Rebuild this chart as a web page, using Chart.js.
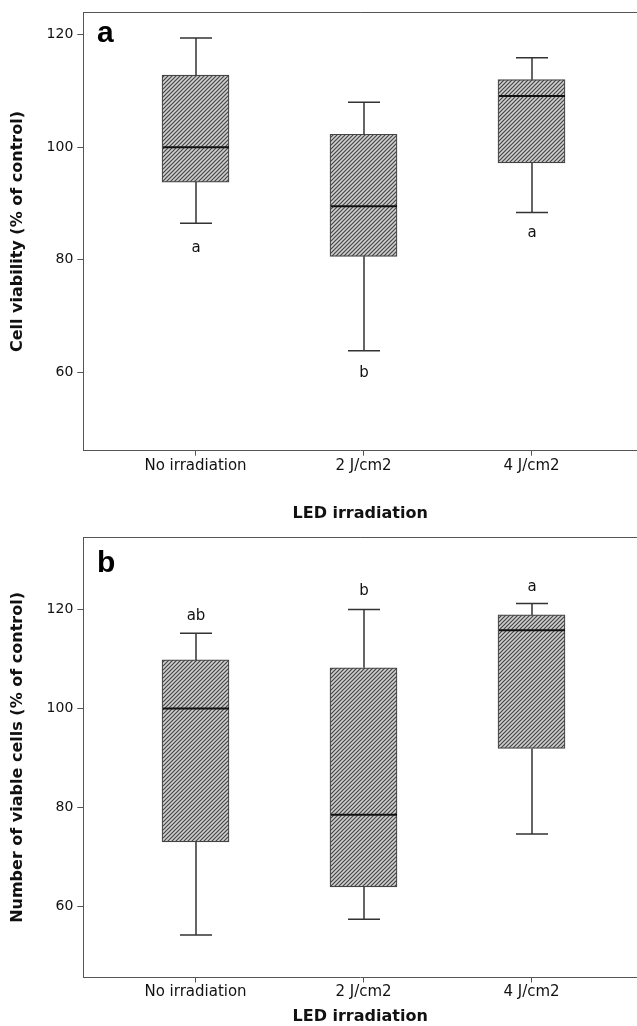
<!DOCTYPE html>
<html>
<head>
<meta charset="utf-8">
<script src="https://cdn.jsdelivr.net/npm/chart.js@4/dist/chart.umd.min.js"></script>
<style>
  body { margin: 0; background: #fff; }
  canvas { display: block; }
</style>
</head>
<body>
<canvas id="chartA" width="637" height="525"></canvas>
<canvas id="chartB" width="637" height="501"></canvas>
<script>
// Box plot data
const groups = ['No irradiation', '2 J/cm2', '4 J/cm2'];
const yTicks = [60, 80, 100, 120];

// a. Cell viability (% of control)
const aMin = [86.5, 63.8, 88.4];
const aQ1 = [93.8, 80.6, 97.2];
const aMed = [100.0, 89.5, 109.1];
const aQ3 = [112.8, 102.3, 112.0];
const aMax = [119.4, 108.0, 115.9];
const aLetters = ['a', 'b', 'a'];
const aLetterY = [82.0, 59.8, 84.7];

// b. Number of viable cells (% of control)
const bMin = [54.2, 57.4, 74.6];
const bQ1 = [73.0, 63.9, 91.9];
const bMed = [100.0, 78.5, 115.8];
const bQ3 = [109.8, 108.2, 118.9];
const bMax = [115.2, 120.0, 121.2];
const bLetters = ['ab', 'b', 'a'];
const bLetterY = [118.6, 123.7, 124.6];

const FONT = 'DejaVu Sans';

function makeHatch(ctx) {
  const c = document.createElement('canvas');
  c.width = 4; c.height = 4;
  const g = c.getContext('2d');
  g.fillStyle = '#cfcfcf';
  g.fillRect(0, 0, 4, 4);
  g.strokeStyle = '#444';
  g.lineWidth = 1.2;
  g.beginPath();
  g.moveTo(0, 4); g.lineTo(4, 0);
  g.moveTo(-1, 1); g.lineTo(1, -1);
  g.moveTo(3, 5); g.lineTo(5, 3);
  g.stroke();
  return ctx.createPattern(c, 'repeat');
}

// whiskers, medians, frame top, letters
const boxExtras = {
  id: 'boxExtras',
  afterDatasetsDraw(chart, args, opts) {
    const { ctx, chartArea, scales: { x, y } } = chart;
    ctx.save();
    groups.forEach((g, i) => {
      const cx = Math.round(x.getPixelForValue(i + 1));
      const yMin = y.getPixelForValue(opts.min[i]);
      const yQ1 = y.getPixelForValue(opts.q1[i]);
      const yQ3 = y.getPixelForValue(opts.q3[i]);
      const yMax = y.getPixelForValue(opts.max[i]);
      ctx.strokeStyle = '#333';
      ctx.lineWidth = 1.5;
      ctx.beginPath();
      ctx.moveTo(cx, yQ3); ctx.lineTo(cx, yMax);
      ctx.moveTo(cx - 16, yMax); ctx.lineTo(cx + 16, yMax);
      ctx.moveTo(cx, yQ1); ctx.lineTo(cx, yMin);
      ctx.moveTo(cx - 16, yMin); ctx.lineTo(cx + 16, yMin);
      ctx.stroke();

      const yMed = y.getPixelForValue(opts.med[i]);
      ctx.strokeStyle = '#111';
      ctx.lineWidth = 2;
      ctx.beginPath();
      ctx.moveTo(cx - 33, yMed); ctx.lineTo(cx + 33, yMed);
      ctx.stroke();

      ctx.fillStyle = '#111';
      ctx.font = '15px "' + FONT + '"';
      ctx.textAlign = 'center';
      ctx.textBaseline = 'middle';
      ctx.fillText(opts.letters[i], cx, y.getPixelForValue(opts.letterY[i]));
    });

    ctx.strokeStyle = '#555';
    ctx.lineWidth = 1;
    ctx.beginPath();
    ctx.moveTo(chartArea.left, Math.round(chartArea.top) + 0.5);
    ctx.lineTo(chartArea.right, Math.round(chartArea.top) + 0.5);
    ctx.stroke();

    ctx.fillStyle = '#000';
    ctx.font = 'bold 30px "Liberation Sans"';
    ctx.textAlign = 'left';
    ctx.textBaseline = 'alphabetic';
    ctx.fillText(opts.panel, 97, opts.panelY);
    ctx.restore();
  }
};

function makePanel(id, p) {
  const canvas = document.getElementById(id);
  const ctx = canvas.getContext('2d');
  return new Chart(ctx, {
    type: 'bar',
    data: {
      datasets: [{
        data: groups.map((g, i) => ({ x: i + 1, y: [p.q1[i], p.q3[i]] })),
        backgroundColor: makeHatch(ctx),
        borderColor: '#444',
        borderWidth: 1.2,
        borderSkipped: false,
        barThickness: 67
      }]
    },
    options: {
      responsive: false,
      animation: false,
      layout: { padding: { top: p.padTop, right: 0, bottom: 0, left: 0 } },
      plugins: {
        legend: { display: false },
        tooltip: { enabled: false },
        boxExtras: p
      },
      scales: {
        x: {
          type: 'linear',
          min: 0.332,
          max: 3.628,
          offset: false,
          afterBuildTicks: s => { s.ticks = groups.map((g, i) => ({ value: i + 1 })); },
          afterFit: s => { s.height = p.xAxisH; },
          ticks: {
            callback: (v, i) => groups[i],
            color: '#111',
            font: { family: FONT, size: 15 },
            padding: 1,
            maxRotation: 0,
            autoSkip: false
          },
          grid: { offset: false, drawOnChartArea: false, tickLength: 5, color: '#555' },
          border: { color: '#555', width: 1 },
          title: {
            display: true,
            text: 'LED irradiation',
            color: '#111',
            font: { family: FONT, size: 16, weight: 'bold' },
            padding: { top: 0, bottom: p.titlePad }
          }
        },
        y: {
          min: p.yMin,
          max: p.yMax,
          afterBuildTicks: s => { s.ticks = yTicks.map(v => ({ value: v })); },
          afterFit: s => { s.width = 83.3; },
          ticks: {
            color: '#111',
            font: { family: FONT, size: 14 },
            padding: 4
          },
          grid: { drawOnChartArea: false, tickLength: 6, color: '#555' },
          border: { color: '#555', width: 1 },
          title: {
            display: true,
            text: p.yTitle,
            color: '#111',
            font: { family: FONT, size: 16, weight: 'bold' },
            padding: { top: 8, bottom: 0 }
          }
        }
      }
    },
    plugins: [boxExtras]
  });
}

makePanel('chartA', {
  min: aMin, q1: aQ1, med: aMed, q3: aQ3, max: aMax,
  letters: aLetters, letterY: aLetterY,
  panel: 'a', panelY: 42,
  yMin: 46.06, yMax: 123.95,
  yTitle: 'Cell viability (% of control)',
  padTop: 9.3, xAxisH: 74.3, titlePad: 2
});

makePanel('chartB', {
  min: bMin, q1: bQ1, med: bMed, q3: bQ3, max: bMax,
  letters: bLetters, letterY: bLetterY,
  panel: 'b', panelY: 47,
  yMin: 45.6, yMax: 134.57,
  yTitle: 'Number of viable cells (% of control)',
  padTop: 11, xAxisH: 48.5, titlePad: 0
});
</script>
</body>
</html>
